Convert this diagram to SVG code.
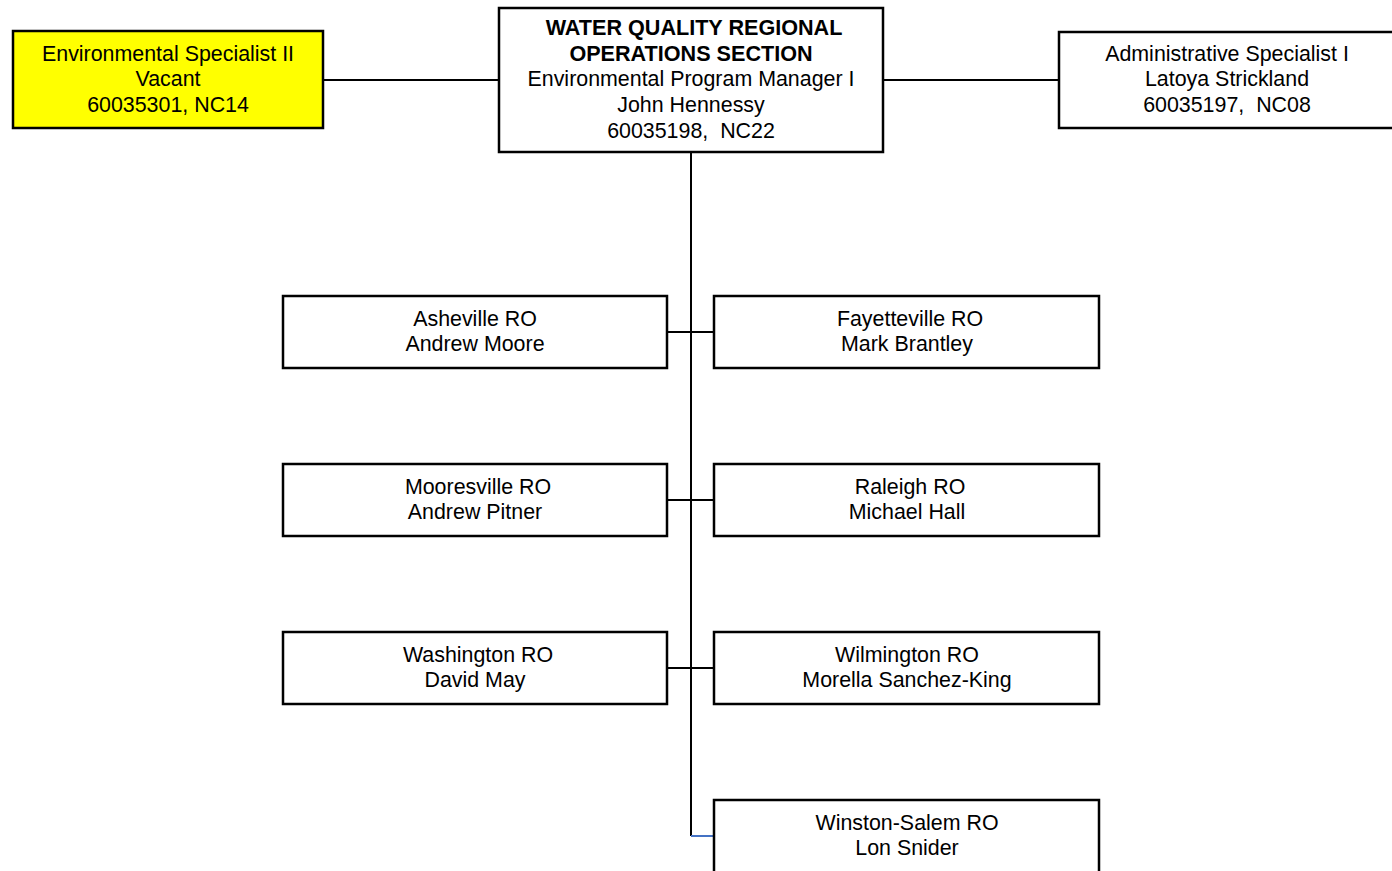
<svg xmlns="http://www.w3.org/2000/svg" width="1392" height="871" viewBox="0 0 1392 871">
<style>
.box{fill:#fff;stroke:#000;stroke-width:2.5}
.yel{fill:#ffff00;stroke:#000;stroke-width:2.5}
.t{font-family:"Liberation Sans",Arial,sans-serif;font-size:21.4px;fill:#000;text-anchor:middle}
.b{font-weight:bold;font-size:21.6px}
.c{stroke:#000;stroke-width:2;fill:none}
</style>
<rect width="1392" height="871" fill="#fff"/>
<g id="connectors">
<line class="c" x1="323" y1="80" x2="499" y2="80"/>
<line class="c" x1="883" y1="80" x2="1059" y2="80"/>
<line class="c" x1="691" y1="152" x2="691" y2="836"/>
<line class="c" x1="667" y1="332" x2="714" y2="332"/>
<line class="c" x1="667" y1="500" x2="714" y2="500"/>
<line class="c" x1="667" y1="668" x2="714" y2="668"/>
<line x1="691" y1="836" x2="714" y2="836" stroke="#4472c4" stroke-width="2"/>
</g>
<g id="env-spec">
<rect class="yel" x="13" y="31" width="310" height="97"/>
<text class="t" x="168" y="61">Environmental Specialist II</text>
<text class="t" x="168" y="86">Vacant</text>
<text class="t" x="168" y="112">60035301, NC14</text>
</g>
<g id="head">
<rect class="box" x="499" y="8" width="384" height="144"/>
<text class="t b" x="694" y="35">WATER QUALITY REGIONAL</text>
<text class="t b" x="691" y="61">OPERATIONS SECTION</text>
<text class="t" x="691" y="86">Environmental Program Manager I</text>
<text class="t" x="691" y="112">John Hennessy</text>
<text class="t" x="691" y="138" xml:space="preserve">60035198,  NC22</text>
</g>
<g id="admin">
<rect class="box" x="1059" y="32" width="340" height="96"/>
<text class="t" x="1227" y="61">Administrative Specialist I</text>
<text class="t" x="1227" y="86">Latoya Strickland</text>
<text class="t" x="1227" y="112" xml:space="preserve">60035197,  NC08</text>
</g>
<g id="asheville">
<rect class="box" x="283" y="296" width="384" height="72"/>
<text class="t" x="475" y="326">Asheville RO</text>
<text class="t" x="475" y="351">Andrew Moore</text>
</g>
<g id="fayetteville">
<rect class="box" x="714" y="296" width="385" height="72"/>
<text class="t" x="910" y="326">Fayetteville RO</text>
<text class="t" x="907" y="351">Mark Brantley</text>
</g>
<g id="mooresville">
<rect class="box" x="283" y="464" width="384" height="72"/>
<text class="t" x="478" y="494">Mooresville RO</text>
<text class="t" x="475" y="519">Andrew Pitner</text>
</g>
<g id="raleigh">
<rect class="box" x="714" y="464" width="385" height="72"/>
<text class="t" x="910" y="494">Raleigh RO</text>
<text class="t" x="907" y="519">Michael Hall</text>
</g>
<g id="washington">
<rect class="box" x="283" y="632" width="384" height="72"/>
<text class="t" x="478" y="662">Washington RO</text>
<text class="t" x="475" y="687">David May</text>
</g>
<g id="wilmington">
<rect class="box" x="714" y="632" width="385" height="72"/>
<text class="t" x="907" y="662">Wilmington RO</text>
<text class="t" x="907" y="687">Morella Sanchez-King</text>
</g>
<g id="winston-salem">
<rect class="box" x="714" y="800" width="385" height="90"/>
<text class="t" x="907" y="830">Winston-Salem RO</text>
<text class="t" x="907" y="855">Lon Snider</text>
</g>
</svg>
